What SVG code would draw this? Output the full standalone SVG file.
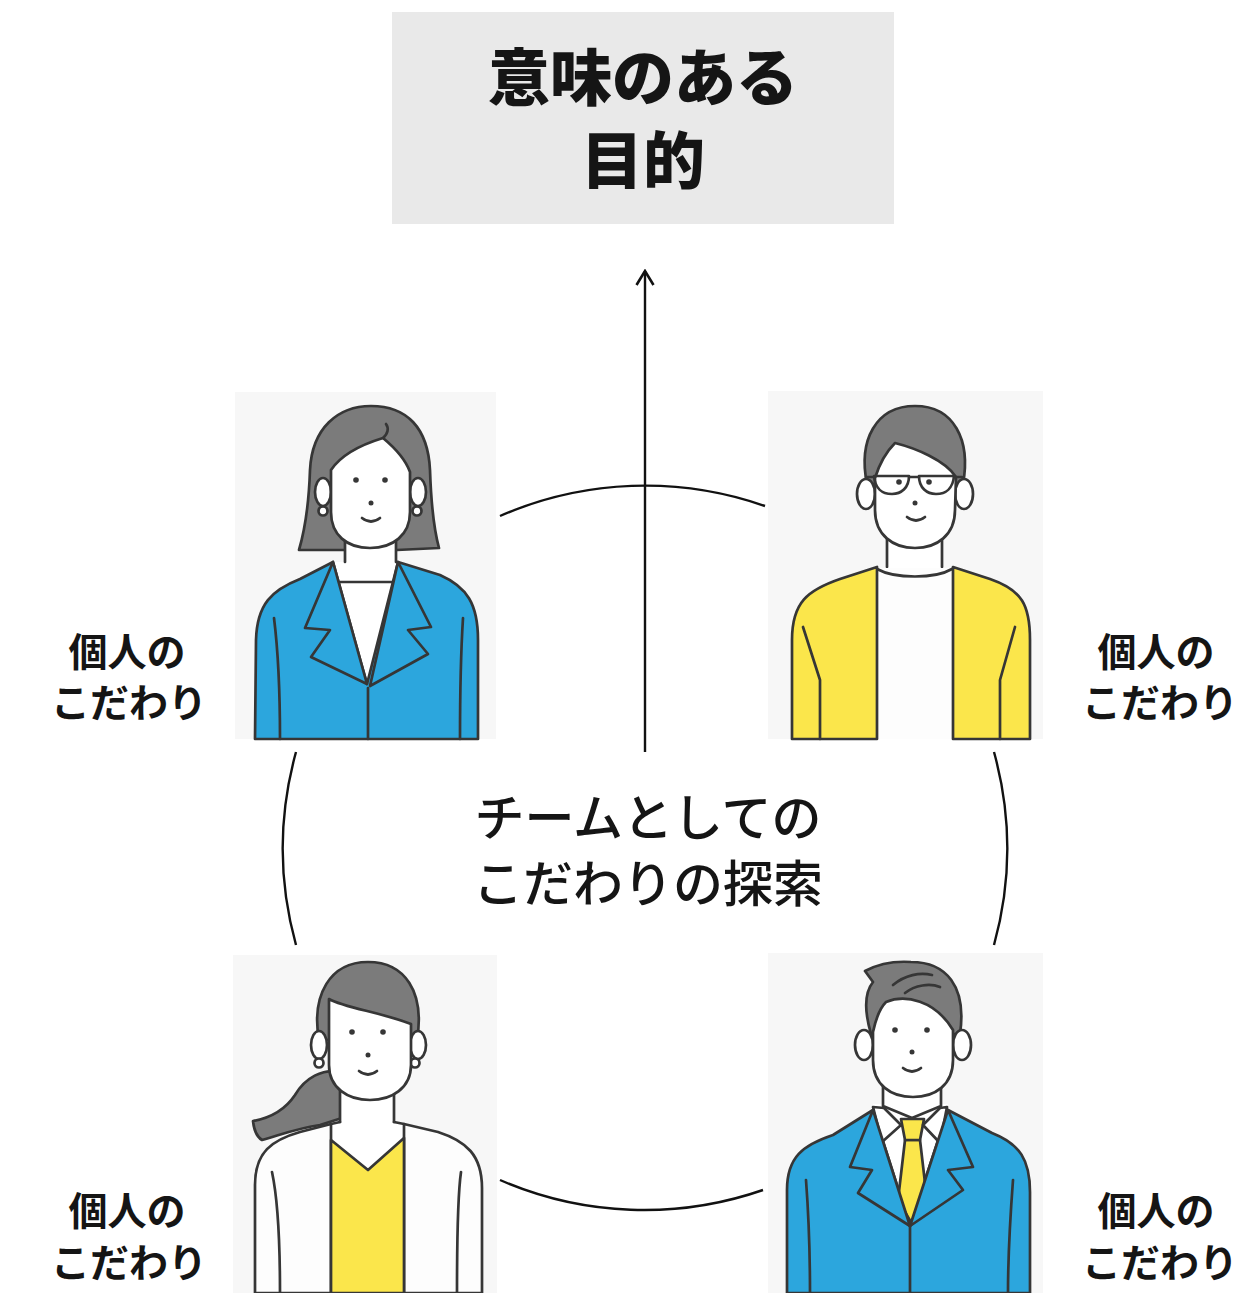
<svg xmlns="http://www.w3.org/2000/svg" width="1257" height="1293" viewBox="0 0 1257 1293">
  <defs>
    <style>
      .txt { font-family: "Noto Sans CJK JP", "Noto Sans", sans-serif; fill: #151515; text-anchor: middle; }
      .title { font-size: 62px; font-weight: 900; }
      .label { font-size: 39px; font-weight: 700; }
      .team { font-size: 50px; font-weight: 500; }
      .panel { fill: #f7f7f7; }
      .ln { stroke: #363636; stroke-width: 2.7; stroke-linejoin: round; stroke-linecap: round; }
      .hair { fill: #7b7b7b; }
      .skin { fill: #ffffff; }
      .blue { fill: #2ca6dd; }
      .yellow { fill: #fbe64b; }
      .white { fill: #fdfdfd; }
      .none { fill: none; }
      .dot { fill: #363636; }
      .wire { fill: none; stroke: #111; stroke-width: 2.4; }
    </style>
    <marker id="head" viewBox="0 0 20 20" refX="18" refY="10" markerWidth="20" markerHeight="20" markerUnits="userSpaceOnUse" orient="auto">
      <path d="M4 1.5 L18 10 L4 18.5" fill="none" stroke="#111" stroke-width="2.6" stroke-linejoin="miter"/>
    </marker>
  </defs>

  <rect width="1257" height="1293" fill="#ffffff"/>

  <!-- goal box -->
  <g id="purpose">
    <rect x="392" y="12" width="502" height="212" fill="#e9e9e9"/>
    <text class="txt title" x="643" y="101">意味のある</text>
    <text class="txt title" x="643" y="184">目的</text>
  </g>

  <!-- circle of exploration and the upward arrow -->
  <g id="connectors">
    <path class="wire" d="M500 516 A362 362 0 0 1 765 506"/>
    <path class="wire" d="M994 752 A362 362 0 0 1 994 945"/>
    <path class="wire" d="M763 1190 A362 362 0 0 1 500 1180"/>
    <path class="wire" d="M296 945 A362 362 0 0 1 296 752"/>
    <line x1="645" y1="752" x2="645" y2="271" stroke="#111" stroke-width="2.4" marker-end="url(#head)"/>
  </g>

  <!-- woman in blue jacket -->
  <g id="person-tl">
    <rect class="panel" x="235" y="392" width="261" height="347"/>
    <path class="hair ln" d="M299 550 C306 526 309 500 310 470 C312 428 338 406 371 406 C407 406 428 428 430 470 C431 500 433 526 439 548 L397 550 L345 550 Z"/>
    <ellipse class="skin ln" cx="323" cy="492" rx="8" ry="14"/>
    <ellipse class="skin ln" cx="418" cy="492" rx="8" ry="14"/>
    <circle class="skin ln" cx="323" cy="511" r="4.5"/>
    <circle class="skin ln" cx="417" cy="511" r="4.5"/>
    <path class="skin" d="M345 530 L396 530 L396 562 L398 562 L367 684 L333 562 L345 562 Z"/>
    <path class="none ln" d="M345 538 L345 562 M396 538 L396 562"/>
    <path class="blue ln" d="M255 739 L256 640 C257 604 272 590 300 579 L333 562 L367 684 L398 562 L440 575 C467 587 478 604 478 640 L478 739 Z"/>
    <path class="none ln" d="M340 582 L395 582"/>
    <path class="blue ln" d="M333 562 L305 628 L330 630 L311 657 L367 684 Z"/>
    <path class="blue ln" d="M398 562 L431 627 L408 630 L428 654 L370 686 Z"/>
    <path class="none ln" d="M368 688 L368 739 M274 618 C278 650 280 700 280 739 M463 618 C461 650 460 700 460 739"/>
    <path class="skin ln" d="M331 470 C341 455 360 445 383 438 C395 448 405 458 410 472 L410 512 C410 535 393 548 370 548 C347 548 331 535 331 512 Z"/>
    <path class="none ln" d="M383 438 C388 434 389 428 386 424"/>
    <circle class="dot" cx="356" cy="480" r="2.8"/>
    <circle class="dot" cx="385" cy="480" r="2.8"/>
    <circle class="dot" cx="371" cy="503" r="2.5"/>
    <path class="none ln" d="M362 518 Q371 525 380 518"/>
  </g>

  <!-- man with glasses in yellow cardigan -->
  <g id="person-tr">
    <rect class="panel" x="768" y="391" width="275" height="348"/>
    <path class="hair ln" d="M867 484 C858 440 876 406 915 406 C954 406 971 440 963 484 Z"/>
    <ellipse class="skin ln" cx="866" cy="494" rx="9" ry="15"/>
    <ellipse class="skin ln" cx="964" cy="494" rx="9" ry="15"/>
    <path class="skin" d="M887 530 L942 530 L942 575 L887 575 Z"/>
    <path class="none ln" d="M887 535 L887 567 M942 535 L942 567"/>
    <path class="white" d="M876 568 L953 568 L953 739 L876 739 Z"/>
    <path class="none ln" d="M877 569 C895 579 935 579 952 569"/>
    <path class="yellow ln" d="M792 739 L792 640 C792 602 808 590 840 579 L877 567 L877 739 Z"/>
    <path class="yellow ln" d="M953 567 L990 579 C1022 590 1030 605 1030 640 L1030 739 L953 739 Z"/>
    <path class="none ln" d="M803 627 L820 680 L820 739 M1015 627 L1000 680 L1000 739"/>
    <path class="skin ln" d="M875 478 C880 462 888 450 895 443 C915 448 945 460 956 477 L955 510 C955 535 937 548 915 548 C893 548 875 535 875 510 Z"/>
    <path class="none ln" d="M874 476 L909 476 C909 488 901 494 892 494 C882 494 875 488 874 476 Z M919 476 L954 476 C953 488 946 494 936 494 C927 494 919 488 919 476 Z M909 477 L919 477 M866 477 L874 477 M954 477 L962 477"/>
    <circle class="dot" cx="899" cy="482" r="2.8"/>
    <circle class="dot" cx="929" cy="482" r="2.8"/>
    <circle class="dot" cx="915" cy="503" r="2.5"/>
    <path class="none ln" d="M907 517 Q916 524 925 517"/>
  </g>

  <!-- woman with ponytail in white cardigan -->
  <g id="person-bl">
    <rect class="panel" x="233" y="955" width="264" height="338"/>
    <path class="hair ln" d="M342 1072 C322 1068 305 1078 295 1095 C285 1110 270 1118 253 1121 C254 1130 257 1137 262 1140 C280 1135 298 1128 320 1125 L342 1118 Z"/>
    <path class="hair ln" d="M319 1040 C311 995 330 962 368 962 C405 962 425 992 417 1040 Z"/>
    <ellipse class="skin ln" cx="319" cy="1045" rx="8" ry="14"/>
    <ellipse class="skin ln" cx="418" cy="1045" rx="8" ry="14"/>
    <circle class="skin ln" cx="319" cy="1063" r="4.5"/>
    <circle class="skin ln" cx="415" cy="1063" r="4.5"/>
    <path class="skin" d="M340 1085 L394 1085 L394 1124 L404 1124 L404 1138 L368 1170 L331 1140 L331 1124 L340 1124 Z"/>
    <path class="none ln" d="M340 1090 L340 1122 M394 1090 L394 1122"/>
    <path class="white ln" d="M255 1293 L255 1185 C255 1152 272 1140 300 1132 L331 1124 L331 1293 Z"/>
    <path class="white ln" d="M404 1124 L438 1132 C466 1141 482 1155 482 1188 L482 1293 L404 1293 Z"/>
    <path class="yellow ln" d="M331 1140 L368 1170 L404 1138 L404 1293 L331 1293 Z"/>
    <path class="none ln" d="M331 1124 L340 1122 M394 1122 L404 1124 M272 1172 C278 1200 280 1250 280 1293 M461 1172 C457 1200 457 1250 457 1293"/>
    <path class="skin ln" d="M329 999 C345 1008 380 1012 411 1024 L411 1065 C411 1088 392 1100 370 1100 C348 1100 329 1088 329 1065 Z"/>
    <circle class="dot" cx="352" cy="1032" r="2.8"/>
    <circle class="dot" cx="383" cy="1032" r="2.8"/>
    <circle class="dot" cx="368" cy="1055" r="2.5"/>
    <path class="none ln" d="M359 1071 Q368 1078 377 1071"/>
  </g>

  <!-- man in blue suit with yellow tie -->
  <g id="person-br">
    <rect class="panel" x="768" y="953" width="275" height="340"/>
    <path class="hair ln" d="M871 1034 C864 1010 865 992 873 982 L865 971 C880 963 896 961 911 962 C946 962 967 986 960 1034 Z"/>
    <ellipse class="skin ln" cx="864" cy="1045" rx="9" ry="15"/>
    <ellipse class="skin ln" cx="962" cy="1045" rx="9" ry="15"/>
    <path class="skin" d="M883 1080 L941 1080 L941 1104 L948 1104 L948 1110 L910 1226 L873 1110 L873 1104 L883 1104 Z"/>
    <path class="none ln" d="M883 1085 L883 1106 M941 1085 L941 1106 M883 1106 L912 1118 L941 1106"/>
    <path class="blue ln" d="M787 1293 L787 1190 C787 1157 803 1145 833 1135 L873 1110 L910 1226 L948 1110 L992 1133 C1020 1144 1030 1160 1030 1192 L1030 1293 Z"/>
    <path class="yellow ln" d="M905 1140 L920 1140 L927 1200 L912 1224 L898 1200 Z"/>
    <path class="yellow ln" d="M901 1119 L924 1119 L920 1140 L905 1140 Z"/>
    <path class="skin ln" d="M873 1107 L882 1142 L901 1125 L884 1108 Z"/>
    <path class="skin ln" d="M947 1107 L940 1143 L923 1125 L940 1108 Z"/>
    <path class="blue ln" d="M873 1110 L850 1167 L872 1170 L858 1193 L910 1226 Z"/>
    <path class="blue ln" d="M948 1110 L973 1167 L948 1170 L963 1190 L910 1226 Z"/>
    <path class="none ln" d="M910 1226 L910 1293 M806 1180 C809 1220 810 1260 810 1293 M1013 1180 C1010 1220 1008 1260 1008 1293"/>
    <path class="skin ln" d="M873 1032 C876 1018 880 1008 886 1002 C905 994 935 1000 953 1030 L953 1060 C953 1085 935 1097 913 1097 C891 1097 873 1085 873 1060 Z"/>
    <path class="none ln" d="M893 985 C905 975 920 972 932 975 M905 993 C915 985 930 983 940 987"/>
    <circle class="dot" cx="895" cy="1030" r="2.8"/>
    <circle class="dot" cx="927" cy="1030" r="2.8"/>
    <circle class="dot" cx="912" cy="1052" r="2.5"/>
    <path class="none ln" d="M903 1068 Q912 1075 921 1068"/>
  </g>

  <!-- individual commitment labels -->
  <g id="label-tl">
    <text class="txt label" x="127" y="666">個人の</text>
    <text class="txt label" x="129" y="717">こだわり</text>
  </g>
  <g id="label-tr">
    <text class="txt label" x="1156" y="666">個人の</text>
    <text class="txt label" x="1160" y="717">こだわり</text>
  </g>
  <g id="label-bl">
    <text class="txt label" x="127" y="1225">個人の</text>
    <text class="txt label" x="129" y="1277">こだわり</text>
  </g>
  <g id="label-br">
    <text class="txt label" x="1156" y="1225">個人の</text>
    <text class="txt label" x="1160" y="1277">こだわり</text>
  </g>

  <!-- team exploration caption -->
  <g id="team">
    <text class="txt team" x="648" y="836">チームとしての</text>
    <text class="txt team" x="648" y="902">こだわりの探索</text>
  </g>
</svg>
